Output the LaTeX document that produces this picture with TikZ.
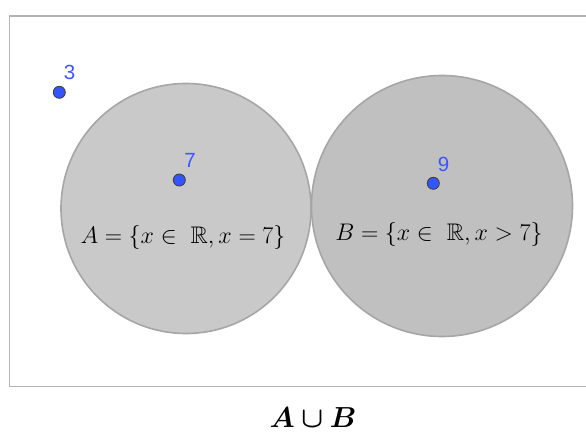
\RequirePackage{fix-cm}
\documentclass[tikz,border=0pt]{standalone}
\usepackage{amsmath,amssymb,bm}
\usepackage{fontspec}
\newfontfamily\lblfont{Liberation Sans}
\definecolor{rimgray}{HTML}{A6A6A6}
\definecolor{setA}{HTML}{C9C9C9}
\definecolor{setB}{HTML}{C0C0C0}
\definecolor{frame}{HTML}{B4B4B4}
\definecolor{ptblue}{HTML}{3355FF}
\definecolor{lblblue}{HTML}{3C55FF}
\tikzset{
  setcircle/.style={draw=rimgray, line width=1.6pt},
  pt/.style={circle, fill=ptblue, draw=black!75, line width=0.9pt, inner sep=0pt, minimum size=12pt},
  ptlabel/.style={text=lblblue, font=\lblfont\fontsize{20.5}{20.5}\selectfont, inner sep=0pt},
  setlabel/.style={font=\fontsize{24}{24}\selectfont, inner sep=0pt}
}
\begin{document}
\begin{tikzpicture}[x=1pt,y=-1pt]
\useasboundingbox (0,0) rectangle (586,433);
\draw[frame, line width=1.2pt] (590,16) -- (9.5,16) -- (9.5,386.5) -- (590,386.5);
\node[setcircle, fill=setA, circle, minimum size=250pt, inner sep=0pt] (A) at (186,208.5) {};
\node[setcircle, fill=setB, circle, minimum size=261pt, inner sep=0pt] (B) at (442,206) {};
\node[pt] (p3) at (59.3,92.3) {};
\node[ptlabel] (l3) at (69.5,72) {3};
\node[pt] (p7) at (179.3,180) {};
\node[ptlabel] (l7) at (190,160.5) {7};
\node[pt] (p9) at (433.3,183.3) {};
\node[ptlabel] (l9) at (443.5,164) {9};
\node[setlabel] (tA) at (183,237) {$A=\{x\in\ \mathbb{R},x=7\}$};
\node[setlabel] (tB) at (439,234.5) {$B=\{x\in\ \mathbb{R},x>7\}$};
\node[font=\fontsize{29}{29}\selectfont, inner sep=0pt] (cap) at (313,417.5) {$\bm{A\cup B}$};
\end{tikzpicture}
\end{document}
